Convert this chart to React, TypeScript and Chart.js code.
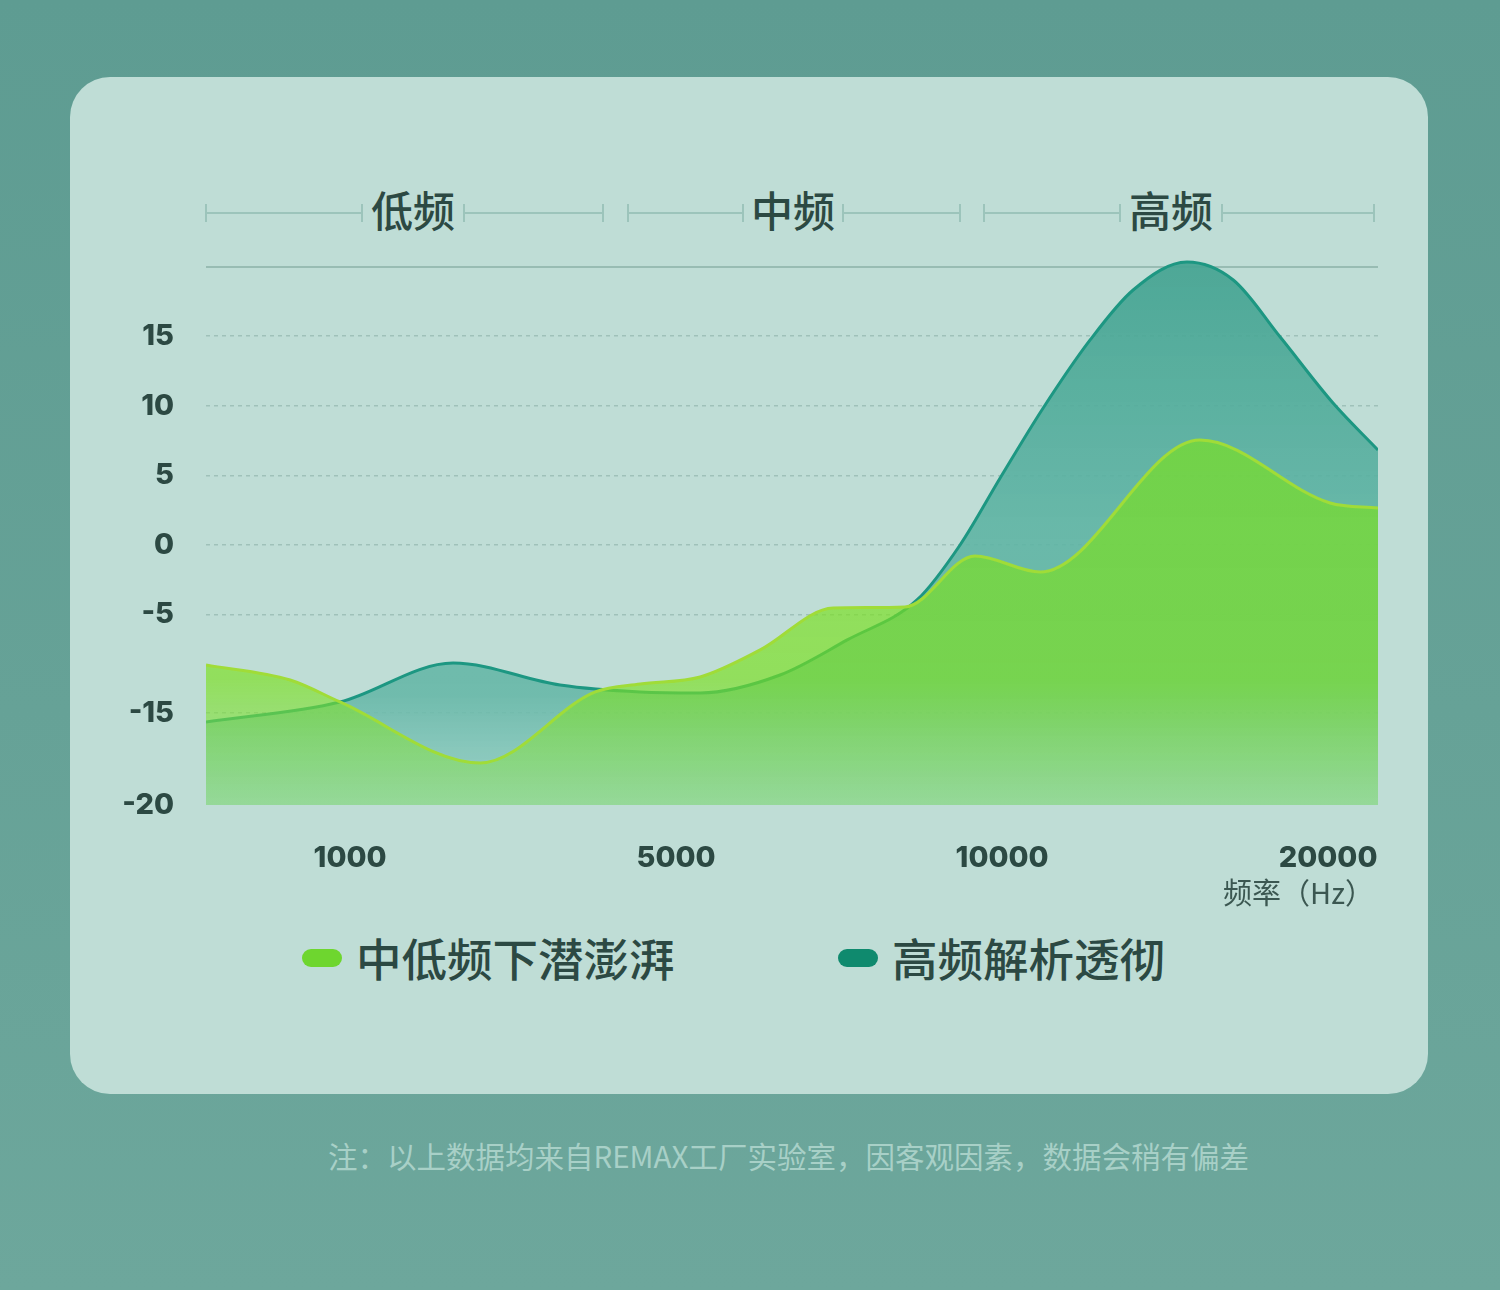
import React, { useEffect, useRef } from 'react';
import { Chart, registerables } from 'chart.js';

Chart.register(...registerables);

// ---------- data ----------
const SERIES_NAMES = ['中低频下潜澎湃', '高频解析透彻'];
const BAND_LABELS = ['低频', '中频', '高频'];
const XTICK_VALUES = [1, 2, 3, 4];
const XTICK_LABELS = ['1000', '5000', '10000', '20000'];
const X_TITLE = '频率（Hz）';
const YTICK_VALUES = [20, 15, 10, 5, 0, -5, -12.07, -18.68];
const YTICK_LABELS = ['', '15', '10', '5', '0', '-5', '-15', '-20'];
const X_MIN = 0.558;
const X_MAX = 4.153;
const Y_MIN = -18.68;
const Y_MAX = 21;

const LOW_X = [0.558, 0.816, 0.969, 1.399, 1.752, 1.89, 2.074, 2.258, 2.482, 2.702, 2.917, 3.117, 3.607, 4.006, 4.153];
const LOW_Y = [-8.62, -9.7, -11.28, -15.66, -10.56, -9.99, -9.48, -7.54, -4.53, -4.45, -0.79, -1.94, 7.54, 3.02, 2.66];

const HIGH_X = [0.558, 0.969, 1.316, 1.644, 1.89, 2.074, 2.319, 2.525, 2.739, 2.871, 2.994, 3.126, 3.27, 3.402, 3.567, 3.709, 3.853, 4.015, 4.153];
const HIGH_Y = [-12.72, -11.28, -8.48, -10.06, -10.56, -10.63, -9.34, -6.82, -3.95, 0, 4.81, 9.84, 14.73, 18.32, 20.33, 19.04, 14.94, 10.2, 6.82];

const NOTE = '注：以上数据均来自REMAX工厂实验室，因客观因素，数据会稍有偏差';

// ---------- styles ----------
const CJK = '"Noto Sans CJK SC", "Noto Sans", sans-serif';
const NUM = 'Inter, "Noto Sans", sans-serif';
const TEXT_DARK = '#2c4943';
const LINE_GREEN = '#a0dc38';
const LINE_TEAL = '#1d9782';
const PILL_GREEN = '#6ed62f';
const PILL_TEAL = '#0f8a6e';

function greenFill(ctx: any) {
  const chart = ctx.chart;
  const area = chart.chartArea;
  if (!area) return 'rgba(120,215,40,0.7)';
  const g = chart.ctx.createLinearGradient(0, area.top, 0, area.bottom);
  g.addColorStop(0, 'rgba(118,220,45,0.76)');
  g.addColorStop(0.77, 'rgba(123,224,30,0.66)');
  g.addColorStop(1, 'rgba(140,222,105,0.5)');
  return g;
}

function tealFill(ctx: any) {
  const chart = ctx.chart;
  const area = chart.chartArea;
  if (!area) return 'rgba(80,170,150,0.8)';
  const g = chart.ctx.createLinearGradient(0, area.top, 0, area.bottom);
  g.addColorStop(0, 'rgba(70,164,146,0.95)');
  g.addColorStop(0.5, 'rgba(95,180,164,0.9)');
  g.addColorStop(0.8, 'rgba(100,182,166,0.87)');
  g.addColorStop(1, 'rgba(150,208,198,0.8)');
  return g;
}

function Bracket({ x0, x1, t0, t1, label }: { x0: number; x1: number; t0: number; t1: number; label: string }) {
  const lineColor = '#9cc4bb';
  const y = 213;
  const tick = (x: number) => (
    <div key={x} style={{ position: 'absolute', left: x - 1, top: y - 9, width: 2, height: 18, background: lineColor }} />
  );
  return (
    <>
      <div style={{ position: 'absolute', left: x0, top: y - 1, width: t0 - x0, height: 2, background: lineColor }} />
      <div style={{ position: 'absolute', left: t1, top: y - 1, width: x1 - t1, height: 2, background: lineColor }} />
      {tick(x0)}
      {tick(t0)}
      {tick(t1)}
      {tick(x1)}
      <div
        style={{
          position: 'absolute',
          left: t0,
          width: t1 - t0,
          top: 209 - 25,
          height: 50,
          lineHeight: '50px',
          textAlign: 'center',
          fontFamily: CJK,
          fontSize: 42,
          fontWeight: 500,
          color: TEXT_DARK,
        }}
      >
        {label}
      </div>
    </>
  );
}

export default function App() {
  const canvasRef = useRef<HTMLCanvasElement | null>(null);

  useEffect(() => {
    const canvas = canvasRef.current;
    if (!canvas) return;
    const chart = new Chart(canvas, {
      type: 'line',
      data: {
        datasets: [
          {
            label: SERIES_NAMES[0],
            data: LOW_X.map((x, i) => ({ x, y: LOW_Y[i] })),
            borderColor: LINE_GREEN,
            borderWidth: 3,
            backgroundColor: greenFill,
            fill: 'start',
            cubicInterpolationMode: 'monotone',
            pointRadius: 0,
          },
          {
            label: SERIES_NAMES[1],
            data: HIGH_X.map((x, i) => ({ x, y: HIGH_Y[i] })),
            borderColor: LINE_TEAL,
            borderWidth: 3,
            backgroundColor: tealFill,
            fill: 'start',
            cubicInterpolationMode: 'monotone',
            pointRadius: 0,
          },
        ],
      },
      options: {
        animation: false,
        responsive: false,
        devicePixelRatio: 1,
        layout: { padding: { left: 100, right: 122, top: 52.68, bottom: 35 } },
        plugins: { legend: { display: false }, tooltip: { enabled: false } },
        scales: {
          x: {
            type: 'linear',
            min: X_MIN,
            max: X_MAX,
            afterBuildTicks: (axis: any) => {
              axis.ticks = XTICK_VALUES.map((v) => ({ value: v }));
            },
            afterFit: (s: any) => {
              s.height = 80;
            },
            grid: { display: false, drawTicks: false },
            border: { display: false },
            ticks: {
              padding: 36,
              autoSkip: false,
              maxRotation: 0,
              color: TEXT_DARK,
              font: { family: NUM, size: 29, weight: 800 },
              callback: (_v: any, i: number) => XTICK_LABELS[i],
            },
          },
          y: {
            type: 'linear',
            min: Y_MIN,
            max: Y_MAX,
            afterBuildTicks: (axis: any) => {
              axis.ticks = YTICK_VALUES.map((v) => ({ value: v }));
            },
            afterFit: (s: any) => {
              s.width = 106;
            },
            grid: {
              drawTicks: false,
              color: (c: any) =>
                c.index === 0 ? '#98bcb3' : c.index === YTICK_VALUES.length - 1 ? 'rgba(0,0,0,0)' : '#9fc1b9',
              lineWidth: (c: any) => (c.index === 0 ? 2 : 1.5),
            },
            border: {
              display: false,
              dash: (c: any) => (c.index === 0 ? [] : [4, 4]),
            },
            ticks: {
              padding: 32,
              autoSkip: false,
              color: TEXT_DARK,
              font: { family: NUM, size: 29, weight: 800 },
              callback: (_v: any, i: number) => YTICK_LABELS[i],
            },
          },
        },
      },
    } as any);
    return () => chart.destroy();
  }, []);

  return (
    <div
      style={{
        position: 'absolute',
        left: 0,
        top: 0,
        width: 1500,
        height: 1290,
        overflow: 'hidden',
        background: 'linear-gradient(180deg, #5e9c92 0%, #66a297 55%, #6da79c 100%)',
      }}
    >
      <div
        style={{
          position: 'absolute',
          left: 70,
          top: 77,
          width: 1358,
          height: 1017,
          borderRadius: 40,
          background: '#bfddd6',
        }}
      />
      <Bracket x0={206} x1={603} t0={362} t1={464} label={BAND_LABELS[0]} />
      <Bracket x0={628} x1={960} t0={743} t1={843} label={BAND_LABELS[1]} />
      <Bracket x0={984} x1={1374} t0={1120} t1={1222} label={BAND_LABELS[2]} />
      <canvas
        ref={canvasRef}
        width={1500}
        height={720}
        style={{ position: 'absolute', left: 0, top: 200, width: 1500, height: 720 }}
      />
      <div
        style={{
          position: 'absolute',
          right: 1500 - 1374,
          top: 891 - 18,
          height: 36,
          lineHeight: '36px',
          fontFamily: CJK,
          fontSize: 29,
          color: '#3b5751',
          whiteSpace: 'nowrap',
        }}
      >
        {X_TITLE}
      </div>
      {[
        { name: SERIES_NAMES[0], color: PILL_GREEN, left: 302 },
        { name: SERIES_NAMES[1], color: PILL_TEAL, left: 838 },
      ].map((it) => (
        <React.Fragment key={it.name}>
          <div
            style={{
              position: 'absolute',
              left: it.left,
              top: 958 - 9,
              width: 40,
              height: 18,
              borderRadius: 9,
              background: it.color,
            }}
          />
          <div
            style={{
              position: 'absolute',
              left: it.left + 54,
              top: 957 - 30,
              height: 60,
              lineHeight: '60px',
              fontFamily: CJK,
              fontSize: 45.5,
              fontWeight: 500,
              color: TEXT_DARK,
              whiteSpace: 'nowrap',
            }}
          >
            {it.name}
          </div>
        </React.Fragment>
      ))}
      <div
        style={{
          position: 'absolute',
          left: 328,
          top: 1155 - 20,
          height: 40,
          lineHeight: '40px',
          fontFamily: CJK,
          fontSize: 29.5,
          color: '#a8d0c7',
          whiteSpace: 'nowrap',
        }}
      >
        {NOTE}
      </div>
    </div>
  );
}
